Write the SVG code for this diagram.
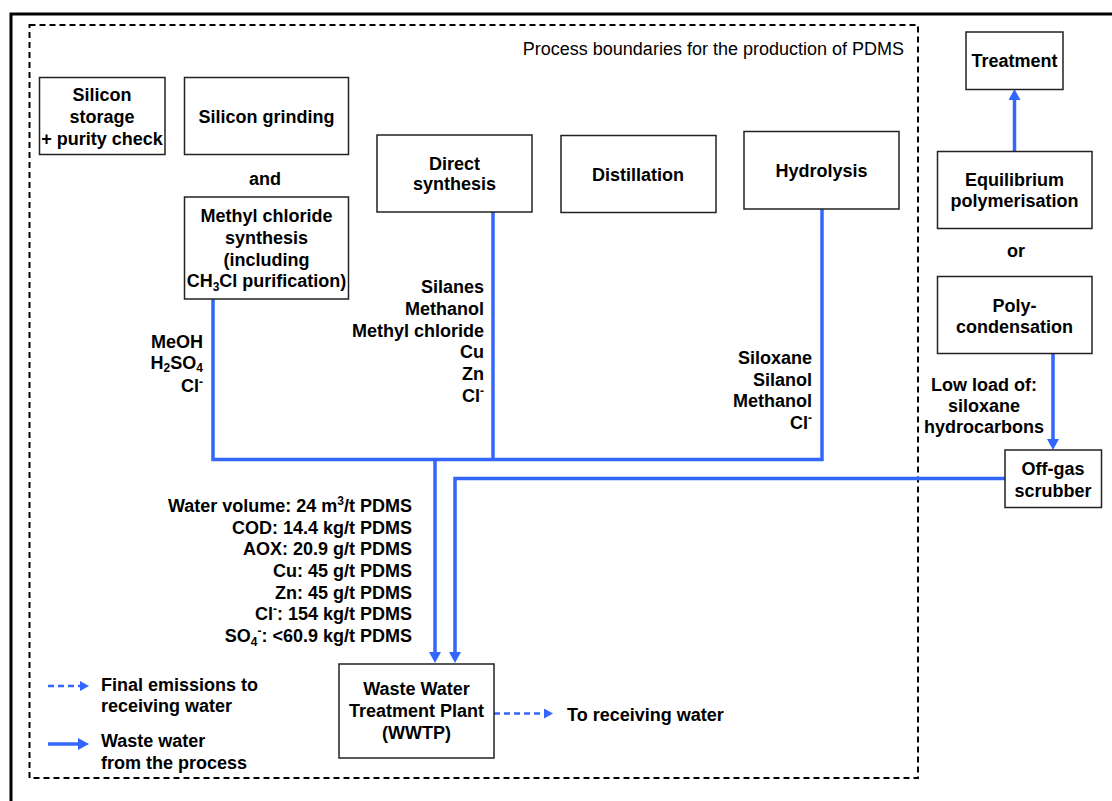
<svg xmlns="http://www.w3.org/2000/svg" width="1112" height="801" viewBox="0 0 1112 801">
<style>
text{font-family:"Liberation Sans",Arial,sans-serif;font-size:18px;font-weight:bold;fill:#000}
.c{text-anchor:middle}
.e{text-anchor:end}
.reg{font-weight:normal}
.box{fill:#fff;stroke:#222;stroke-width:1.5}
.flow{fill:none;stroke:#3366ff;stroke-width:3.5}
.dflow{fill:none;stroke:#3366ff;stroke-width:2.5;stroke-dasharray:6 4}
.sm{font-size:12px}
</style>
<defs>
<marker id="ah" markerWidth="12" markerHeight="12" refX="0" refY="6" orient="auto" markerUnits="userSpaceOnUse">
<path d="M0,0 L11,6 L0,12 z" fill="#3366ff"/>
</marker>
<marker id="ahs" markerWidth="10" markerHeight="10" refX="0" refY="5" orient="auto" markerUnits="userSpaceOnUse">
<path d="M0,0 L9,5 L0,10 z" fill="#3366ff"/>
</marker>
</defs>
<rect width="1112" height="801" fill="#fff"/>
<path d="M11,801 V14 H1112" fill="none" stroke="#000" stroke-width="3"/>
<rect x="29.5" y="25" width="888.5" height="753" fill="none" stroke="#000" stroke-width="2" stroke-dasharray="6 4"/>
<text class="reg e" x="904" y="55">Process boundaries for the production of PDMS</text>

<g id="connectors">
<path class="flow" d="M213,299 V459.5 H822 V209"/>
<path class="flow" d="M493,212 V459.5"/>
<path class="flow" d="M435,459.5 V652" marker-end="url(#ah)"/>
<path class="flow" d="M1005,478.5 H455 V652" marker-end="url(#ah)"/>
<path class="flow" d="M1053,353 V439" marker-end="url(#ah)"/>
<path class="flow" d="M1014.5,151 V100" marker-end="url(#ah)"/>
<path class="dflow" d="M494,713.5 H544" marker-end="url(#ahs)"/>
<path class="dflow" d="M48,686 H80" marker-end="url(#ahs)"/>
<path class="flow" d="M48,744 H78" marker-end="url(#ah)"/>
</g>

<g id="silicon-storage">
<rect class="box" x="39.5" y="77.5" width="125.5" height="77"/>
<text class="c" x="102" y="101">Silicon</text>
<text class="c" x="102" y="123">storage</text>
<text class="c" x="102" y="145">+ purity check</text>
</g>
<g id="silicon-grinding">
<rect class="box" x="184.5" y="77.5" width="164" height="77"/>
<text class="c" x="266.5" y="123">Silicon grinding</text>
</g>
<text class="c" x="265" y="185">and</text>
<g id="methyl-chloride">
<rect class="box" x="184.5" y="197" width="164" height="102"/>
<text class="c" x="266.5" y="222">Methyl chloride</text>
<text class="c" x="266.5" y="243.5">synthesis</text>
<text class="c" x="266.5" y="265.5">(including</text>
<text class="c" x="266.5" y="287">CH<tspan class="sm" dy="4">3</tspan><tspan dy="-4">Cl purification)</tspan></text>
</g>
<g id="direct-synthesis">
<rect class="box" x="377" y="135" width="155" height="77"/>
<text class="c" x="454.5" y="170">Direct</text>
<text class="c" x="454.5" y="190">synthesis</text>
</g>
<g id="distillation">
<rect class="box" x="561" y="135.5" width="155" height="77"/>
<text class="c" x="638" y="181">Distillation</text>
</g>
<g id="hydrolysis">
<rect class="box" x="744" y="131.5" width="155" height="77.5"/>
<text class="c" x="821.5" y="177">Hydrolysis</text>
</g>
<g id="treatment">
<rect class="box" x="966" y="32" width="97" height="57.5"/>
<text class="c" x="1014.5" y="67">Treatment</text>
</g>
<g id="equilibrium">
<rect class="box" x="937.5" y="151.5" width="154.5" height="77"/>
<text class="c" x="1014.5" y="186">Equilibrium</text>
<text class="c" x="1014.5" y="207">polymerisation</text>
</g>
<text class="c" x="1016" y="257">or</text>
<g id="polycondensation">
<rect class="box" x="937.5" y="276.5" width="154.5" height="77"/>
<text class="c" x="1014.5" y="312">Poly-</text>
<text class="c" x="1014.5" y="333">condensation</text>
</g>
<g id="off-gas-scrubber">
<rect class="box" x="1005" y="450" width="96.5" height="57.5"/>
<text class="c" x="1053" y="475">Off-gas</text>
<text class="c" x="1053" y="497">scrubber</text>
</g>
<g id="wwtp">
<rect class="box" x="339" y="664" width="155" height="94"/>
<text class="c" x="416.5" y="695">Waste Water</text>
<text class="c" x="416.5" y="717">Treatment Plant</text>
<text class="c" x="416.5" y="739">(WWTP)</text>
</g>

<g id="labels">
<text class="e" x="203" y="348">MeOH</text>
<text class="e" x="203" y="369">H<tspan class="sm" dy="3">2</tspan><tspan dy="-3">SO</tspan><tspan class="sm" dy="3">4</tspan></text>
<text class="e" x="203" y="392">Cl<tspan class="sm" dy="-6">-</tspan></text>

<text class="e" x="484" y="293">Silanes</text>
<text class="e" x="484" y="315">Methanol</text>
<text class="e" x="484" y="337">Methyl chloride</text>
<text class="e" x="484" y="358">Cu</text>
<text class="e" x="484" y="380">Zn</text>
<text class="e" x="484" y="402">Cl<tspan class="sm" dy="-7">-</tspan></text>

<text class="e" x="812" y="364">Siloxane</text>
<text class="e" x="812" y="386">Silanol</text>
<text class="e" x="812" y="407">Methanol</text>
<text class="e" x="812" y="429">Cl<tspan class="sm" dy="-7">-</tspan></text>

<text class="c" x="984" y="391">Low load of:</text>
<text class="c" x="984" y="412">siloxane</text>
<text class="c" x="984" y="433">hydrocarbons</text>

<text class="e" x="412" y="512">Water volume: 24 m<tspan class="sm" dy="-7">3</tspan><tspan dy="7">/t PDMS</tspan></text>
<text class="e" x="412" y="533.5">COD: 14.4 kg/t PDMS</text>
<text class="e" x="412" y="555">AOX: 20.9 g/t PDMS</text>
<text class="e" x="412" y="577">Cu: 45 g/t PDMS</text>
<text class="e" x="412" y="598.5">Zn: 45 g/t PDMS</text>
<text class="e" x="412" y="620">Cl<tspan class="sm" dy="-7">-</tspan><tspan dy="7">: 154 kg/t PDMS</tspan></text>
<text class="e" x="412" y="642">SO<tspan class="sm" dy="4">4</tspan><tspan class="sm" dy="-11">-</tspan><tspan dy="7">: &lt;60.9 kg/t PDMS</tspan></text>

<text x="567" y="721">To receiving water</text>
</g>

<g id="legend">
<text x="101" y="690.5">Final emissions to</text>
<text x="101" y="711.5">receiving water</text>
<text x="101" y="747">Waste water</text>
<text x="101" y="768.5">from the process</text>
</g>
</svg>
